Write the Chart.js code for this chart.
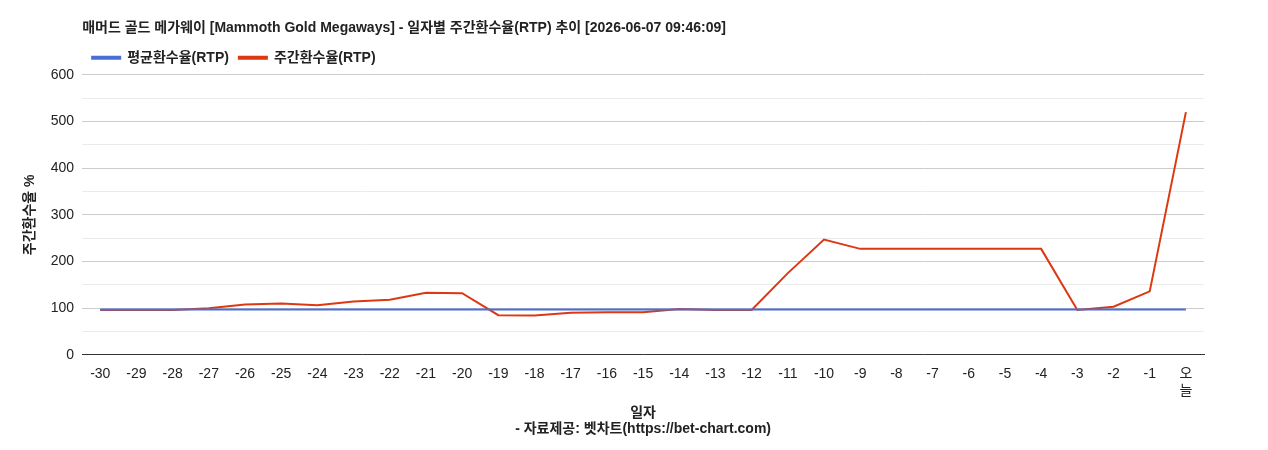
<!DOCTYPE html>
<html><head><meta charset="utf-8">
<script src="https://cdn.jsdelivr.net/npm/chart.js@4"></script>
<style>body{margin:0;background:#fff}#w{width:1268px;height:450px}</style>
</head><body><div id="w"><canvas id="c"></canvas></div>
<script>
const labels=['-30','-29','-28','-27','-26','-25','-24','-23','-22','-21','-20','-19','-18','-17','-16','-15','-14','-13','-12','-11','-10','-9','-8','-7','-6','-5','-4','-3','-2','-1',['오','늘']];
const avgRtp=Array(31).fill(97);
const weekRtp=[96,96,96,100,108,110,106,114,118,133,132,85,84,90,91,91,98,96,96,175,247,227,227,227,227,227,227,96,103,136,520];
const F='"Liberation Sans","Noto Sans CJK KR",sans-serif';
Chart.defaults.font.family=F;Chart.defaults.color='#222';
new Chart(document.getElementById('c'),{type:'line',data:{labels,datasets:[
{label:'평균환수율(RTP)',data:avgRtp,borderColor:'#4a6fd4',backgroundColor:'#4a6fd4',borderWidth:2,pointRadius:0,tension:0},
{label:'주간환수율(RTP)',data:weekRtp,borderColor:'#dc3912',backgroundColor:'#dc3912',borderWidth:2,pointRadius:0,tension:0}]},
options:{responsive:true,maintainAspectRatio:false,animation:false,
layout:{padding:{left:18,right:64,top:0,bottom:8}},
plugins:{title:{display:true,fullSize:false,text:'매머드 골드 메가웨이 [Mammoth Gold Megaways] - 일자별 주간환수율(RTP) 추이 [2026-06-07 09:46:09]',align:'start',font:{size:14,weight:'bold'},color:'#222',padding:{top:20,bottom:4}},
legend:{fullSize:false,align:'start',labels:{boxWidth:28,boxHeight:2,font:{size:14,weight:'bold'},padding:10}},
tooltip:{enabled:false}},
scales:{x:{offset:true,grid:{display:false},border:{color:'#333'},ticks:{font:{size:14},minRotation:0,maxRotation:0,autoSkip:false},
title:{display:true,text:['일자','- 자료제공: 벳차트(https://bet-chart.com)'],font:{size:14,weight:'bold'},padding:{top:2}}},
y:{min:0,max:600,ticks:{stepSize:50,font:{size:14},padding:8,callback:v=>v%100===0?v:''},
grid:{color:c=>c.tick&&c.tick.value%100===0?'#ccc':'#ebebeb',drawTicks:false},border:{display:false},
title:{display:true,text:'주간환수율 %',font:{size:14,weight:'bold'}}}}}});
</script></body></html>
